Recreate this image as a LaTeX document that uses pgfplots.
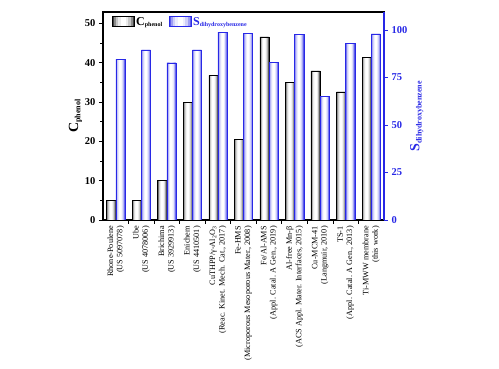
\documentclass[border=0pt]{standalone}
\usepackage{fontspec}
\setmainfont{Liberation Serif}
\usepackage{pgfplots}
\usepackage{pgfplotstable}
\pgfplotsset{compat=1.18}
\definecolor{sblue}{RGB}{40,40,230}
\pgfplotstableread{
x c
1 5
2 5
3 10
4 30
5 36.8
6 20.6
7 46.6
8 35
9 37.9
10 32.6
11 41.4
}\cdata
\pgfplotstableread{
x s
1 84.7
2 89.6
3 82.8
4 89.6
5 98.9
6 98.4
7 83
8 97.7
9 65.1
10 93
11 98
}\sdata
\newcommand\gradswatch[1]{%
  \fill[#1!75] (0pt,-4pt) rectangle (22pt,6pt);
  \fill[#1!45] (2pt,-4pt) rectangle (20pt,6pt);
  \fill[#1!22] (4pt,-4pt) rectangle (18pt,6pt);
  \fill[#1!8] (6.5pt,-4pt) rectangle (15.5pt,6pt);
  \fill[white] (9pt,-4pt) rectangle (13pt,6pt);
  \draw[#1] (0pt,-4pt) rectangle (22pt,6pt);}
\begin{document}
\begin{tikzpicture}
\pgfplotsset{
  common/.style={
    width=281pt, height=208pt, scale only axis,
    xmin=0.5, xmax=11.5,
    /pgf/number format/assume math mode=true,
    tick align=outside,
    major tick length=4pt, minor tick length=2.5pt,
    every tick/.style={thick},
    at={(0,0)}, anchor=south west,
  },
}
\begin{axis}[common,
  ybar,
  ymin=0, ymax=52.9,
  ytick={0,10,20,30,40,50},
  minor ytick={5,15,25,35,45},
  ytick pos=left,
  xtick={1,...,11},
  extra x ticks={1.5,2.5,...,10.5},
  extra x tick labels={},
  extra x tick style={major tick length=4pt, major x tick style={draw=black, thick}},
  xtick pos=bottom,
  major x tick style={draw=none},
  axis line style={line width=1.2pt},
  xticklabels={
    {Rhone-Poulene\\(US 5097078)},
    {Ube\\(US 4078006)},
    {Brichima\\(US 3929913)},
    {Enichem\\(US 4410501)},
    {CuTHPP/γ-Al\textsubscript{2}O\textsubscript{3}\\(Reac. Kinet. Mech. Cat., 2017)},
    {Fe-HMS\\(Microporous Mesoporous Mater., 2008)},
    {Fe/Al-AMS\\(Appl. Catal. A Gen., 2019)},
    {Al-free Mn-β\\(ACS Appl. Mater. Interfaces, 2015)},
    {Cu-MCM-41\\(Langmuir, 2010)},
    {TS-1\\(Appl. Catal. A Gen., 2013)},
    {Ti-MWW membrane\\(this work)}},
  xticklabel style={rotate=90, anchor=east, align=right, font=\fontsize{8.2}{9.4}\selectfont, inner sep=2pt},
  yticklabel style={font=\fontsize{10.5}{12}\selectfont\bfseries},
  ylabel={\fontsize{14}{16}\selectfont\bfseries C\textsubscript{\fontsize{8}{9}\selectfont phenol}},
  ylabel style={yshift=-4pt},
]
\addplot[fill=black!75, draw=none, bar width=0.36, bar shift=-0.18] table[x=x,y=c] {\cdata};
\addplot[fill=black!45, draw=none, bar width=0.31, bar shift=-0.18] table[x=x,y=c] {\cdata};
\addplot[fill=black!22, draw=none, bar width=0.25, bar shift=-0.18] table[x=x,y=c] {\cdata};
\addplot[fill=black!8, draw=none, bar width=0.18, bar shift=-0.18] table[x=x,y=c] {\cdata};
\addplot[fill=white, draw=none, bar width=0.10, bar shift=-0.18] table[x=x,y=c] {\cdata};
\addplot[fill=none, draw=black, thin, bar width=0.36, bar shift=-0.18] table[x=x,y=c] {\cdata};
\end{axis}
\begin{axis}[common,
  ybar,
  ymin=0, ymax=109.5,
  axis x line=none,
  axis y line*=right,
  ytick={0,25,50,75,100},
  y axis line style={sblue, line width=1.4pt},
  ytick style={sblue, thick},
  yticklabel style={sblue, font=\fontsize{10.5}{12}\selectfont\bfseries},
  ylabel={\fontsize{14}{16}\selectfont\bfseries S\textsubscript{\fontsize{8}{9}\selectfont dihydroxybenzene}},
  ylabel style={sblue, yshift=4pt},
  legend style={draw=none, fill=none, at={(0.02,0.995)}, anchor=north west,
    legend columns=2, font=\bfseries, /tikz/every even column/.append style={column sep=4pt}},
]
\addlegendimage{legend image code/.code={\gradswatch{black}}}
\addlegendentry{\fontsize{12}{14}\selectfont C\textsubscript{\fontsize{6}{7}\selectfont phenol}}
\addlegendimage{legend image code/.code={\gradswatch{sblue}}}
\addlegendentry{\textcolor{sblue}{\fontsize{12}{14}\selectfont S\textsubscript{\fontsize{6}{7}\selectfont dihydroxybenzene}}}
\addplot[forget plot, fill=sblue!80, draw=none, bar width=0.36, bar shift=0.18] table[x=x,y=s] {\sdata};
\addplot[forget plot, fill=sblue!50, draw=none, bar width=0.31, bar shift=0.18] table[x=x,y=s] {\sdata};
\addplot[forget plot, fill=sblue!25, draw=none, bar width=0.25, bar shift=0.18] table[x=x,y=s] {\sdata};
\addplot[forget plot, fill=sblue!10, draw=none, bar width=0.18, bar shift=0.18] table[x=x,y=s] {\sdata};
\addplot[forget plot, fill=white, draw=none, bar width=0.10, bar shift=0.18] table[x=x,y=s] {\sdata};
\addplot[forget plot, fill=none, draw=sblue, thin, bar width=0.36, bar shift=0.18] table[x=x,y=s] {\sdata};
\end{axis}
\pgfresetboundingbox
\path[use as bounding box] (-103pt,-149pt) rectangle (396pt,220pt);
\end{tikzpicture}
\end{document}
